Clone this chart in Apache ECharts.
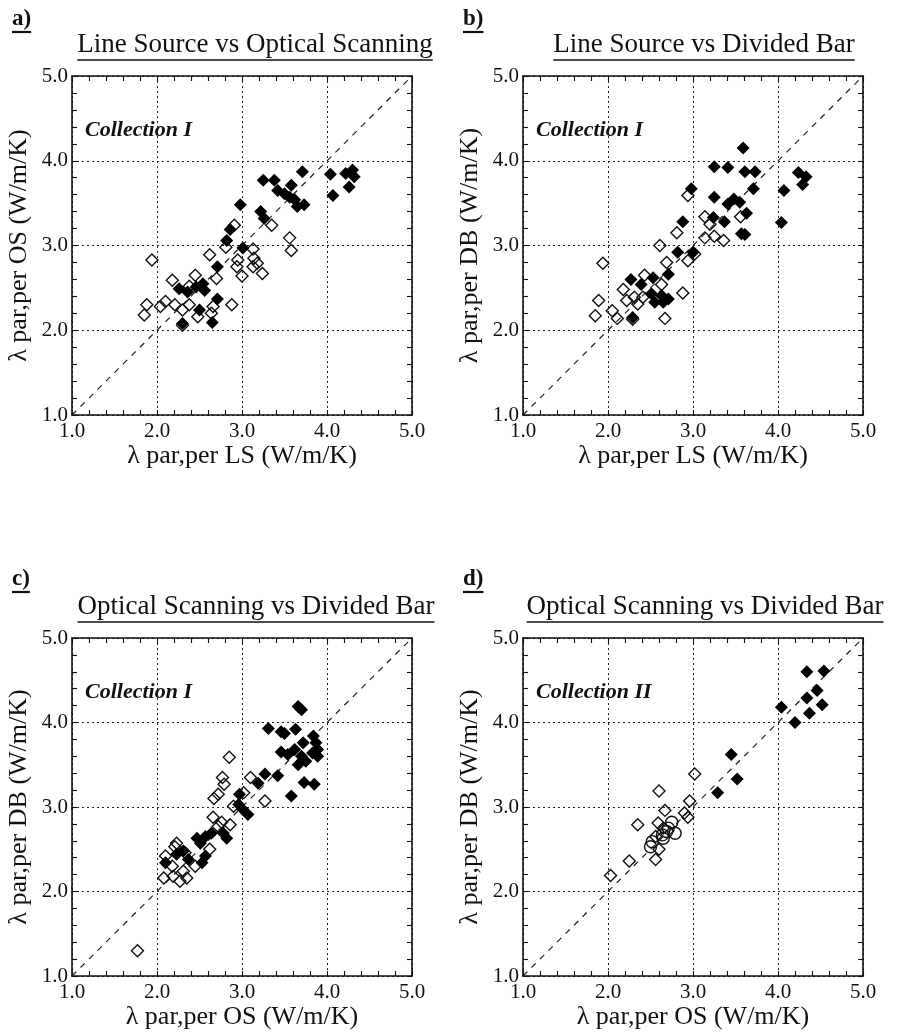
<!DOCTYPE html>
<html><head><meta charset="utf-8">
<script src="https://cdn.jsdelivr.net/npm/echarts@6/dist/echarts.min.js"></script>
<style>html,body{margin:0;padding:0;background:#fff}#c{width:900px;height:1035px}</style>
</head><body><div id="c"></div>
<script>
// ---------------- data ----------------
const tickValues = [1, 2, 3, 4, 5];
const tickLabels = ['1.0', '2.0', '3.0', '4.0', '5.0'];
const panelLetters = ['a)', 'b)', 'c)', 'd)'];
const panelTitles = ['Line Source vs Optical Scanning', 'Line Source vs Divided Bar',
                     'Optical Scanning vs Divided Bar', 'Optical Scanning vs Divided Bar'];
const collections = ['Collection I', 'Collection I', 'Collection I', 'Collection II'];
const xNames = ['λ par,per LS (W/m/K)', 'λ par,per LS (W/m/K)', 'λ par,per OS (W/m/K)', 'λ par,per OS (W/m/K)'];
const yNames = ['λ par,per OS (W/m/K)', 'λ par,per DB (W/m/K)', 'λ par,per DB (W/m/K)', 'λ par,per DB (W/m/K)'];
const oneToOne = [[1, 1], [5, 5]];

const aFilled = [[2.98,3.48],[3.25,3.77],[3.38,3.77],[3.71,3.87],[3.58,3.71],[3.42,3.65],[3.50,3.61],[3.56,3.57],
  [3.62,3.54],[3.65,3.46],[3.73,3.48],[4.04,3.84],[4.07,3.59],[4.22,3.85],[4.30,3.89],[4.32,3.81],[4.26,3.69],
  [3.22,3.40],[3.26,3.32],[2.86,3.19],[2.82,3.06],[3.01,2.97],[2.71,2.75],[2.26,2.49],[2.36,2.45],[2.46,2.51],
  [2.54,2.55],[2.56,2.47],[2.50,2.24],[2.65,2.09],[2.71,2.37],[2.30,2.08]];
const aOpen = [[1.94,2.83],[1.88,2.30],[1.85,2.18],[2.04,2.28],[2.10,2.34],[2.18,2.59],[2.21,2.30],[2.30,2.24],
  [2.38,2.30],[2.38,2.52],[2.45,2.65],[2.48,2.16],[2.62,2.89],[2.66,2.28],[2.64,2.20],[2.70,2.61],[2.88,2.30],
  [2.91,3.24],[2.81,2.98],[2.95,2.83],[2.94,2.75],[3.00,2.64],[3.13,2.96],[3.14,2.85],[3.18,2.79],[3.13,2.75],
  [3.24,2.67],[3.35,3.24],[3.56,3.09],[3.58,2.94],[2.30,2.06]];

const bFilled = [[3.59,4.15],[3.25,3.93],[3.41,3.92],[3.61,3.87],[3.73,3.87],[3.71,3.67],[2.98,3.67],[3.25,3.57],
  [3.41,3.49],[3.48,3.55],[3.55,3.51],[3.63,3.38],[3.37,3.28],[3.24,3.33],[2.88,3.28],[3.61,3.13],[3.57,3.14],
  [4.07,3.65],[4.04,3.27],[4.24,3.86],[4.33,3.81],[4.29,3.72],[2.82,2.92],[3.00,2.92],[2.71,2.66],[2.27,2.60],
  [2.39,2.54],[2.53,2.62],[2.51,2.43],[2.55,2.33],[2.65,2.33],[2.71,2.37],[2.63,2.41],[2.29,2.15]];
const bOpen = [[2.94,3.59],[3.14,3.34],[3.20,3.25],[3.25,3.11],[3.14,3.09],[3.36,3.06],[3.56,3.34],[2.81,3.15],
  [2.61,3.00],[2.69,2.80],[2.94,2.82],[3.02,2.90],[1.94,2.79],[1.89,2.35],[1.85,2.17],[2.05,2.23],[2.11,2.14],
  [2.18,2.48],[2.22,2.35],[2.31,2.39],[2.35,2.31],[2.41,2.39],[2.43,2.65],[2.63,2.54],[2.88,2.44],[2.67,2.14],
  [2.29,2.13]];

const cFilled = [[3.66,4.19],[3.70,4.15],[3.31,3.93],[3.46,3.89],[3.50,3.87],[3.63,3.92],[3.84,3.84],[3.87,3.76],
  [3.72,3.76],[3.46,3.65],[3.54,3.62],[3.62,3.68],[3.70,3.60],[3.66,3.50],[3.75,3.54],[3.89,3.60],[3.83,3.64],
  [3.89,3.68],[3.27,3.39],[3.42,3.37],[3.19,3.28],[3.58,3.13],[3.73,3.29],[3.85,3.27],[2.97,3.15],[2.96,3.03],
  [3.07,2.91],[3.01,2.97],[2.82,2.63],[2.78,2.69],[2.64,2.69],[2.57,2.65],[2.47,2.63],[2.51,2.57],[2.53,2.34],
  [2.57,2.42],[2.31,2.48],[2.37,2.38],[2.23,2.44],[2.10,2.34]];
const cOpen = [[2.85,3.59],[3.10,3.35],[2.77,3.35],[2.79,3.27],[2.72,3.15],[2.67,3.10],[2.90,3.01],[3.02,3.17],
  [3.27,3.07],[2.66,2.88],[2.76,2.82],[2.86,2.79],[2.72,2.77],[2.62,2.50],[2.45,2.30],[2.23,2.57],[2.21,2.53],
  [2.33,2.46],[2.10,2.42],[2.18,2.30],[2.08,2.16],[2.19,2.18],[2.27,2.12],[2.35,2.16],[2.31,2.24],[1.77,1.30]];

const dFilled = [[4.34,4.60],[4.54,4.61],[4.46,4.38],[4.34,4.29],[4.52,4.21],[4.37,4.11],[4.04,4.18],[4.20,4.00],
  [3.45,3.62],[3.52,3.33],[3.29,3.17]];
const dOpen = [[3.02,3.39],[2.60,3.19],[2.96,3.07],[2.67,2.96],[2.90,2.93],[2.94,2.88],[2.35,2.79],[2.59,2.81],
  [2.65,2.75],[2.56,2.65],[2.60,2.50],[2.56,2.38],[2.25,2.36],[2.03,2.19]];
const dCircles = [[2.75,2.82],[2.79,2.69],[2.69,2.71],[2.64,2.67],[2.65,2.63],[2.52,2.59],[2.50,2.53],[2.71,2.75]];

const panels = [
  {filled: aFilled, open: aOpen, circles: []},
  {filled: bFilled, open: bOpen, circles: []},
  {filled: cFilled, open: cOpen, circles: []},
  {filled: dFilled, open: dOpen, circles: dCircles}
];

// ---------------- layout ----------------
const SERIF = '"Liberation Serif", "Times New Roman", serif';
const INK = '#111';
const grids = [
  {left: 72, top: 76, width: 340, height: 339},
  {left: 523, top: 76, width: 340, height: 339},
  {left: 72, top: 638, width: 340, height: 338},
  {left: 523, top: 638, width: 340, height: 338}
];
const titleCenters = [[255, 58], [704, 58], [256, 620], [705, 620]];
const letterPos = [[12, 31], [463, 31], [12, 591], [463, 591]];

const measureCtx = document.createElement('canvas').getContext('2d');
function textWidth(t, font) { measureCtx.font = font; return measureCtx.measureText(t).width; }

const xAxes = [], yAxes = [], series = [], graphics = [];
const fmt = v => { const i = tickValues.indexOf(v); return i >= 0 ? tickLabels[i] : ''; };

grids.forEach((g, i) => {
  const common = {
    gridIndex: i, type: 'value', min: tickValues[0], max: tickValues[tickValues.length - 1], interval: 1,
    axisLine: {show: true, onZero: false, lineStyle: {color: INK, width: 1.6}},
    axisTick: {show: true, inside: true, length: 5, lineStyle: {color: INK, width: 1.1}},
    minorTick: {show: true, splitNumber: 5, length: 5, lineStyle: {color: INK, width: 1.1}}
  };
  xAxes.push(Object.assign({}, common, {
    position: 'bottom',
    axisLabel: {formatter: fmt, fontFamily: SERIF, fontSize: 21, color: INK, margin: 6},
    splitLine: {show: true, lineStyle: {type: [2, 3], color: '#222', width: 1}},
    name: xNames[i], nameLocation: 'middle', nameGap: 27,
    nameTextStyle: {fontFamily: SERIF, fontSize: 26, color: INK}
  }));
  xAxes.push(Object.assign({}, common, {
    position: 'top', axisLabel: {show: false}, splitLine: {show: false}
  }));
  yAxes.push(Object.assign({}, common, {
    position: 'left',
    axisLabel: {formatter: fmt, fontFamily: SERIF, fontSize: 21, color: INK, margin: 4},
    splitLine: {show: true, lineStyle: {type: [2, 3], color: '#222', width: 1}},
    name: yNames[i], nameLocation: 'middle', nameGap: 40, nameRotate: 90,
    nameTextStyle: {fontFamily: SERIF, fontSize: 26, color: INK}
  }));
  yAxes.push(Object.assign({}, common, {
    position: 'right', axisLabel: {show: false}, splitLine: {show: false}
  }));

  const xi = 2 * i, yi = 2 * i;
  series.push({
    type: 'line', xAxisIndex: xi, yAxisIndex: yi, data: oneToOne, symbol: 'none', silent: true,
    lineStyle: {color: '#222', width: 1.2, type: [6, 6]}, z: 1
  });
  series.push({
    type: 'scatter', xAxisIndex: xi, yAxisIndex: yi, data: panels[i].open, symbol: 'diamond', symbolSize: 12,
    itemStyle: {color: 'rgba(255,255,255,0)', borderColor: INK, borderWidth: 1.4, opacity: 1}, z: 2
  });
  if (panels[i].circles.length) {
    series.push({
      type: 'scatter', xAxisIndex: xi, yAxisIndex: yi, data: panels[i].circles, symbol: 'circle', symbolSize: 12,
      itemStyle: {color: 'rgba(255,255,255,0)', borderColor: INK, borderWidth: 1.4, opacity: 1}, z: 2
    });
  }
  series.push({
    type: 'scatter', xAxisIndex: xi, yAxisIndex: yi, data: panels[i].filled, symbol: 'diamond', symbolSize: 13,
    itemStyle: {color: '#000', opacity: 1}, z: 3
  });

  // panel letter (bold, underlined)
  const lf = 'bold 23px ' + SERIF;
  const lw = textWidth(panelLetters[i], lf);
  graphics.push({type: 'text', x: letterPos[i][0], y: letterPos[i][1],
    style: {text: panelLetters[i], font: lf, fill: INK, align: 'left', verticalAlign: 'bottom'}});
  graphics.push({type: 'line', shape: {x1: letterPos[i][0], y1: letterPos[i][1] + 1, x2: letterPos[i][0] + lw, y2: letterPos[i][1] + 1},
    style: {stroke: INK, lineWidth: 2.2}});
  // title (underlined)
  const tf = '27px ' + SERIF;
  const tw = textWidth(panelTitles[i], tf);
  const [cx, cy] = titleCenters[i];
  graphics.push({type: 'text', x: cx, y: cy,
    style: {text: panelTitles[i], font: tf, fill: INK, align: 'center', verticalAlign: 'bottom'}});
  graphics.push({type: 'line', shape: {x1: cx - tw / 2, y1: cy + 2, x2: cx + tw / 2, y2: cy + 2},
    style: {stroke: INK, lineWidth: 1.4}});
  // collection label
  graphics.push({type: 'text', x: g.left + 13, y: g.top + 54,
    style: {text: collections[i], font: 'italic bold 22px ' + SERIF, fill: INK, align: 'left', verticalAlign: 'middle'}});
});

const chart = echarts.init(document.getElementById('c'), null, {renderer: 'canvas'});
chart.setOption({
  backgroundColor: '#fff',
  animation: false,
  grid: grids.map(g => Object.assign({containLabel: false}, g)),
  xAxis: xAxes,
  yAxis: yAxes,
  series: series,
  graphic: graphics
});
</script>
</body></html>
